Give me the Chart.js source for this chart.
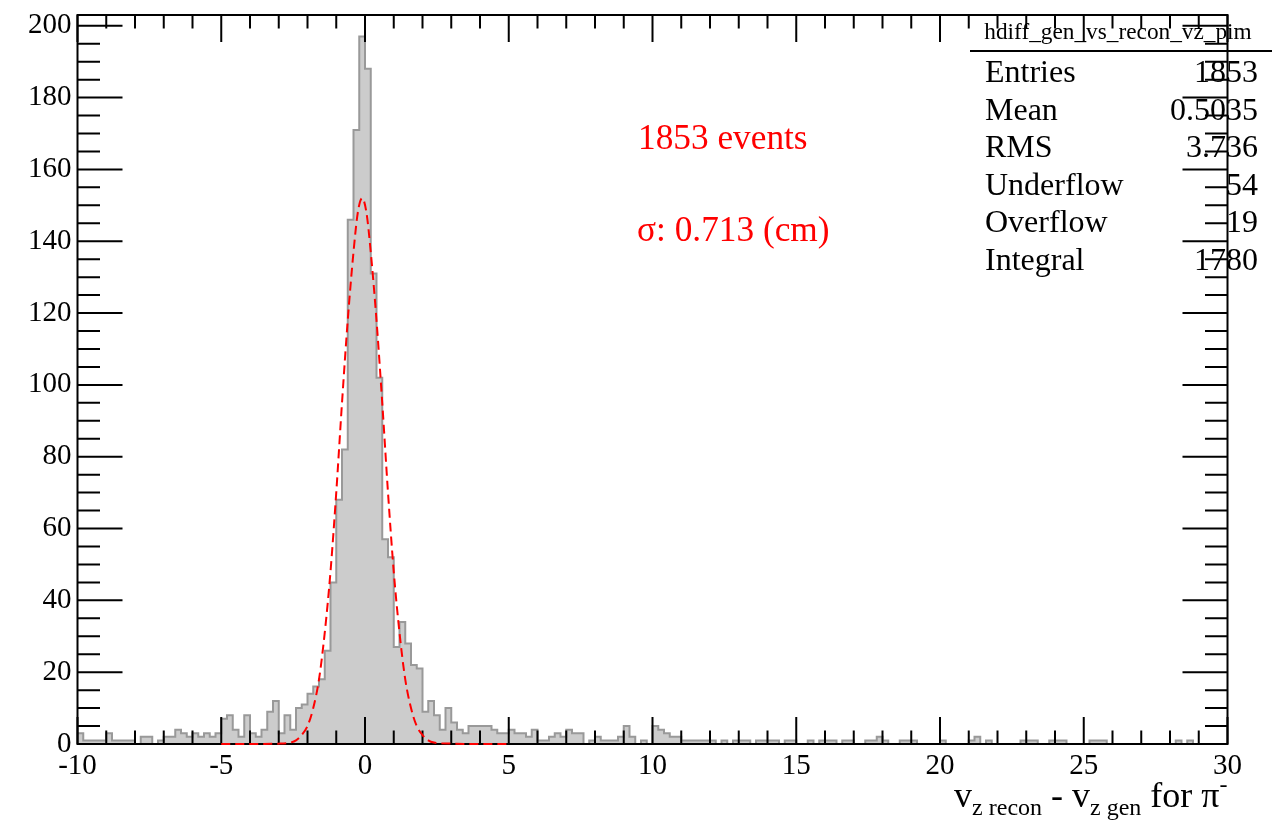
<!DOCTYPE html>
<html>
<head>
<meta charset="utf-8">
<script src="https://cdn.jsdelivr.net/npm/chart.js@4.4.1/dist/chart.umd.min.js"></script>
<style>
  html, body { margin: 0; padding: 0; background: #fff; }
  #wrap { width: 1278px; height: 823px; }
</style>
</head>
<body>
<div id="wrap"><canvas id="c" width="1278" height="823"></canvas></div>
<script>
// vz(recon) - vz(gen) for pi-, 200 bins of 0.2 cm from -10 to 30
const binLow = -10;
const binWidth = 0.2;
const counts = [
  3, 1, 1, 1, 1, 3, 1, 1, 1, 1,
  0, 2, 2, 0, 1, 2, 2, 4, 3, 2,
  3, 2, 3, 2, 3, 7, 8, 4, 2, 8,
  3, 2, 4, 9, 12, 3, 8, 4, 10, 11,
  14, 16, 18, 26, 45, 68, 82, 146, 171, 197,
  188, 131, 102, 57, 52, 27, 34, 28, 22, 21,
  9, 12, 8, 4, 10, 6, 4, 3, 5, 5,
  5, 5, 4, 3, 3, 4, 3, 3, 2, 4,
  1, 1, 2, 3, 2, 4, 3, 3, 0, 1,
  2, 1, 1, 1, 2, 5, 2, 0, 1, 0,
  5, 4, 3, 2, 2, 1, 1, 1, 1, 1,
  1, 0, 1, 0, 1, 1, 1, 0, 1, 1,
  1, 1, 0, 1, 1, 0, 0, 1, 0, 1,
  1, 1, 0, 1, 1, 0, 0, 1, 1, 2,
  1, 0, 0, 1, 1, 1, 0, 0, 0, 0,
  1, 0, 0, 0, 0, 1, 2, 0, 1, 0,
  0, 0, 0, 0, 1, 1, 1, 0, 0, 1,
  1, 1, 0, 0, 0, 0, 1, 1, 1, 0,
  0, 0, 0, 0, 0, 0, 0, 0, 0, 0,
  0, 1, 0, 1, 0, 0, 0, 0, 0, 0
];

// gaussian fit curve (red dashed)
const fitX = [-5, -4, -3, -2.6, -2.4, -2.2, -2.0, -1.8, -1.6, -1.4, -1.2, -1.0, -0.8, -0.6, -0.4, -0.25,
  -0.1, 0.05, 0.2, 0.4, 0.6, 0.8, 1.0, 1.2, 1.4, 1.6, 1.8, 2.0, 2.2, 2.4, 3, 4, 5];
const fitY = [0, 0, 0.1, 0.4, 1, 2.5, 5, 10, 18, 31, 48, 70, 95, 118, 137, 148,
  152, 148, 137, 118, 95, 70, 48, 31, 18, 10, 5, 2.5, 1, 0.4, 0.1, 0, 0];

const xTicks = [-10, -5, 0, 5, 10, 15, 20, 25, 30];
const yTicks = [0, 20, 40, 60, 80, 100, 120, 140, 160, 180, 200];
const xMinorStep = 1;
const yMinorStep = 5;
const yMax = 203;

const histName = 'hdiff_gen_vs_recon_vz_pim';
const statsLabels = ['Entries', 'Mean', 'RMS', 'Underflow', 'Overflow', 'Integral'];
const statsValues = ['1853', '0.5035', '3.736', '54', '19', '1780'];
const notes = ['1853 events', 'σ: 0.713 (cm)'];

const serif = "'Liberation Serif', 'Times New Roman', serif";

const histPoints = counts.map((c, i) => ({ x: binLow + i * binWidth, y: c }));
histPoints.push({ x: binLow + counts.length * binWidth, y: counts[counts.length - 1] });
const fitPoints = fitX.map((x, i) => ({ x, y: fitY[i] }));

// frame + inward ticks on all four sides, drawn right after the histogram
const rootFrame = {
  id: 'rootFrame',
  afterDatasetDraw(chart, args) {
    if (args.index !== 0) return;
    const { ctx, chartArea: a, scales: { x, y } } = chart;
    ctx.save();
    ctx.strokeStyle = '#000';
    ctx.lineWidth = 2;
    ctx.strokeRect(a.left, a.top, a.right - a.left, a.bottom - a.top);
    ctx.beginPath();
    for (let v = x.min; v <= x.max + 1e-6; v += xMinorStep) {
      const px = x.getPixelForValue(v);
      const len = xTicks.includes(Math.round(v)) ? 27 : 13.5;
      ctx.moveTo(px, a.bottom); ctx.lineTo(px, a.bottom - len);
      ctx.moveTo(px, a.top); ctx.lineTo(px, a.top + len);
    }
    for (let v = 0; v <= y.max; v += yMinorStep) {
      const py = y.getPixelForValue(v);
      const len = yTicks.includes(v) ? 45 : 22.5;
      ctx.moveTo(a.left, py); ctx.lineTo(a.left + len, py);
      ctx.moveTo(a.right, py); ctx.lineTo(a.right - len, py);
    }
    ctx.stroke();
    ctx.restore();
  }
};

// stats box, red notes and the axis title
const rootText = {
  id: 'rootText',
  afterDraw(chart) {
    const { ctx, chartArea: a } = chart;
    ctx.save();
    ctx.fillStyle = '#000';
    ctx.textBaseline = 'middle';
    ctx.font = `23.3px ${serif}`;
    ctx.textAlign = 'center';
    ctx.fillText(histName, 1118, 33);
    ctx.lineWidth = 2;
    ctx.beginPath();
    ctx.moveTo(970, 51); ctx.lineTo(1272, 51);
    ctx.stroke();
    ctx.font = `32px ${serif}`;
    statsLabels.forEach((lab, i) => {
      const yy = 74 + i * 37.5;
      ctx.textAlign = 'left';
      ctx.fillText(lab, 985, yy);
      ctx.textAlign = 'right';
      ctx.fillText(statsValues[i], 1258, yy);
    });

    ctx.fillStyle = '#ff0000';
    ctx.textAlign = 'left';
    ctx.font = `35.3px ${serif}`;
    ctx.fillText(notes[0], 638, 140);
    ctx.fillText(notes[1], 637, 232);

    // v_{z recon} - v_{z gen} for #pi^{-}
    const parts = [
      { t: 'v', s: 36, dy: 0 },
      { t: 'z recon', s: 24, dy: 8 },
      { t: ' - ', s: 36, dy: 0 },
      { t: 'v', s: 36, dy: 0 },
      { t: 'z gen', s: 24, dy: 8 },
      { t: ' for π', s: 36, dy: 0 },
      { t: '-', s: 24, dy: -15 }
    ];
    ctx.fillStyle = '#000';
    ctx.textBaseline = 'alphabetic';
    let total = 0;
    parts.forEach(p => { ctx.font = `${p.s}px ${serif}`; p.w = ctx.measureText(p.t).width; total += p.w; });
    let cx = a.right - total;
    parts.forEach(p => {
      ctx.font = `${p.s}px ${serif}`;
      ctx.fillText(p.t, cx, 807 + p.dy);
      cx += p.w;
    });
    ctx.restore();
  }
};

new Chart(document.getElementById('c'), {
  type: 'line',
  data: {
    datasets: [
      {
        data: histPoints,
        stepped: 'before',
        borderColor: '#999999',
        borderWidth: 2,
        backgroundColor: '#cccccc',
        fill: 'origin',
        pointRadius: 0,
        order: 2
      },
      {
        data: fitPoints,
        borderColor: '#ff0000',
        borderWidth: 2,
        borderDash: [9, 5],
        cubicInterpolationMode: 'monotone',
        fill: false,
        pointRadius: 0,
        clip: false,
        order: 1
      }
    ]
  },
  options: {
    responsive: false,
    animation: false,
    devicePixelRatio: 1,
    layout: { padding: { top: 15, right: 50.5, left: 0, bottom: 0 } },
    plugins: { legend: { display: false }, tooltip: { enabled: false } },
    scales: {
      x: {
        type: 'linear',
        min: binLow,
        max: 30,
        afterBuildTicks: s => { s.ticks = xTicks.map(v => ({ value: v })); },
        afterFit: s => { s.height = 79; s.paddingLeft = 0; s.paddingRight = 0; },
        grid: { display: false, drawTicks: false },
        border: { display: false },
        ticks: { color: '#000', font: { family: serif, size: 29 }, padding: 5, maxRotation: 0 }
      },
      y: {
        type: 'linear',
        min: 0,
        max: yMax,
        afterBuildTicks: s => { s.ticks = yTicks.map(v => ({ value: v })); },
        afterFit: s => { s.width = 77.5; s.paddingTop = 0; s.paddingBottom = 0; },
        grid: { display: false, drawTicks: false },
        border: { display: false },
        ticks: { color: '#000', font: { family: serif, size: 29 }, padding: 6 }
      }
    }
  },
  plugins: [rootFrame, rootText]
});
</script>
</body>
</html>
